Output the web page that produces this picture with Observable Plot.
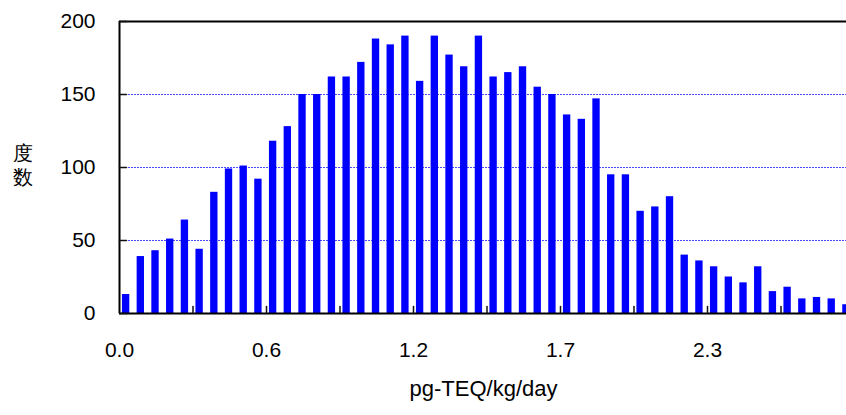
<!DOCTYPE html>
<html>
<head>
<meta charset="utf-8">
<script src="https://cdn.jsdelivr.net/npm/d3@7"></script>
<script src="https://cdn.jsdelivr.net/npm/@observablehq/plot@0.6"></script>
<style>
  html, body { margin: 0; padding: 0; background: #fff; }
  #chart { width: 846px; height: 415px; overflow: hidden; }
</style>
</head>
<body>
<div id="chart"></div>
<script>
// Frequency per bin (bins of equal width, 50 visible)
const counts = [13,39,43,51,64,44,83,99,101,92,
                118,128,150,150,162,162,172,188,184,190,
                159,190,177,169,190,162,165,169,155,150,
                136,133,147,95,95,70,73,80,40,36,
                32,25,21,32,15,18,10,11,10,6];
const xLabelBins = [0,10,20,30,40];
const xLabels = ["0.0","0.6","1.2","1.7","2.3"];
const xTickBins = [5,10,15,20,25,30,35,40,45];
const yTicks = [0,50,100,150,200];
const yGrid = [50,100,150];
const yTitle = "度\n数";
const xTitle = "pg-TEQ/kg/day";

const data = counts.map((c, i) => ({bin: i, count: c}));
const font = "Arial, 'Liberation Sans', sans-serif";
// straight tick segment drawn from the anchor point in the rotate direction
const tickShape = {draw(context, l) { context.moveTo(0, 0); context.lineTo(0, -l); }};

const plot = Plot.plot({
  width: 846,
  height: 415,
  marginLeft: 119,
  marginRight: -8,
  marginTop: 21,
  marginBottom: 102,
  style: {fontFamily: font, background: "#fff", overflow: "hidden"},
  x: {domain: [0, 50], axis: null},
  y: {domain: [0, 200], axis: null},
  marks: [
    Plot.ruleY(yGrid, {stroke: "#4a4aff", strokeWidth: 1, strokeDasharray: "2,1"}),
    Plot.rectY(data, {x1: d => d.bin + 0.2, x2: d => d.bin + 0.7, y: "count", fill: "#0000ff"}),
    Plot.ruleY([200], {stroke: "#000", strokeWidth: 2}),
    Plot.ruleY([0], {stroke: "#000", strokeWidth: 2}),
    Plot.ruleX([0], {stroke: "#000", strokeWidth: 2}),
    Plot.vector(yTicks, {x: 0, y: d => d, length: 7, rotate: 90, anchor: "start", shape: tickShape, stroke: "#111", strokeWidth: 1.5}),
    Plot.vector(xTickBins, {x: d => d, y: 0, length: 7, rotate: 0, anchor: "start", shape: tickShape, stroke: "#111", strokeWidth: 1.5}),
    Plot.text(yTicks, {x: 0, y: d => d, text: d => String(d), textAnchor: "end", dx: -24, fontSize: 21, fill: "#000"}),
    Plot.text(xLabelBins, {x: d => d, y: 0, text: (d, i) => xLabels[i], dy: 37, fontSize: 21, fill: "#000"}),
    Plot.text([yTitle], {frameAnchor: "left", textAnchor: "middle", dx: -96.5, dy: -3, text: d => d, fontSize: 20, lineHeight: 1.2, fill: "#000"}),
    Plot.text([xTitle], {frameAnchor: "bottom", dx: -3.5, dy: 82, text: d => d, fontSize: 22, fill: "#000"})
  ]
});
document.getElementById("chart").appendChild(plot);
</script>
</body>
</html>
